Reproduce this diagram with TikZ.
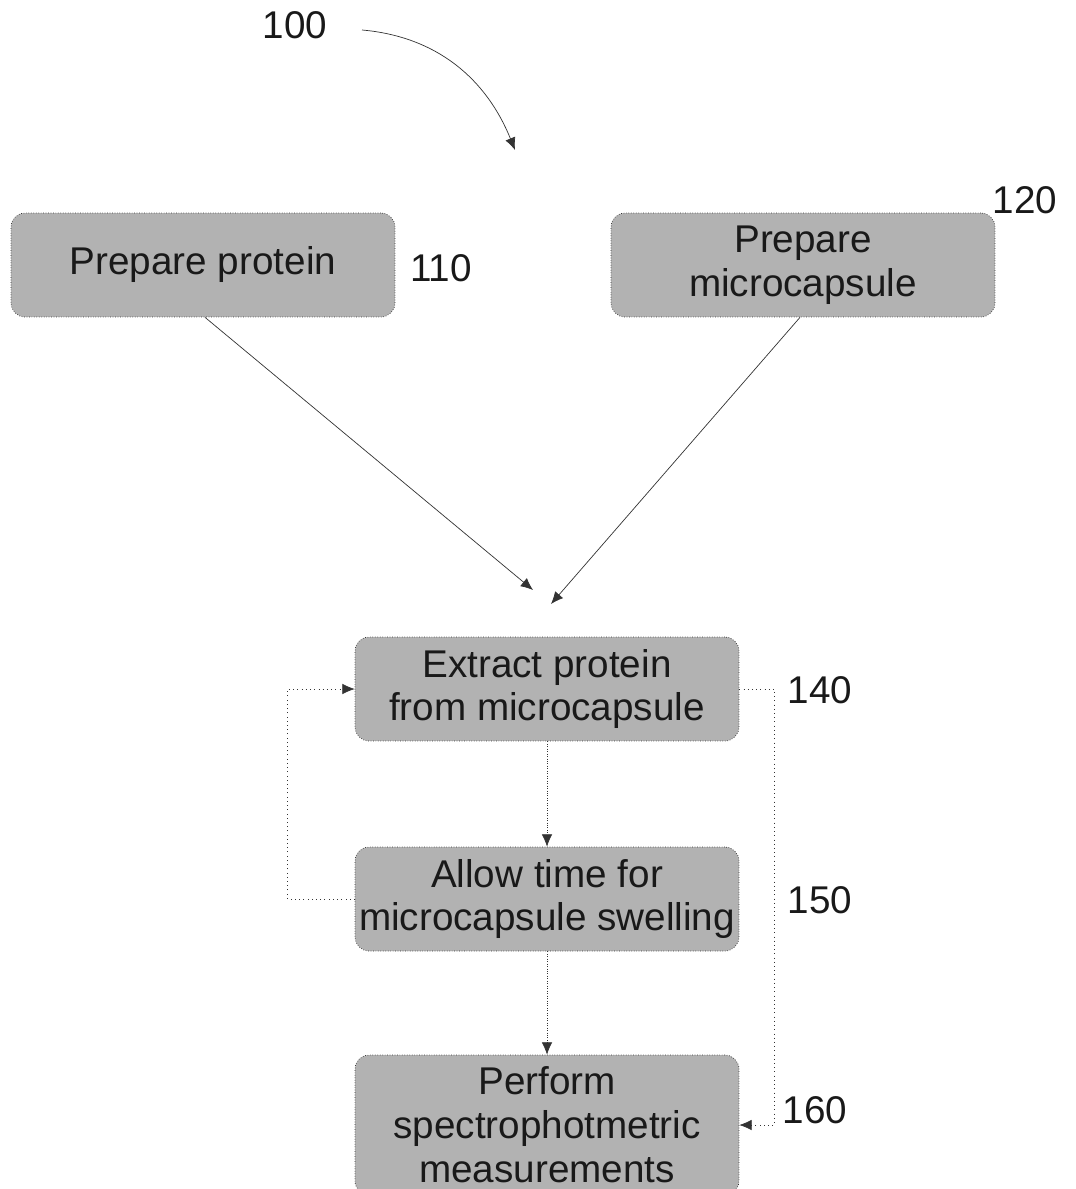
\documentclass[tikz,border=0pt]{standalone}
\usepackage{fontspec}
\setmainfont{Liberation Sans}
\usetikzlibrary{arrows.meta}
\begin{document}
\begin{tikzpicture}[
			x=0.02cm, y=-0.02cm,
			font=\fontsize{22}{25}\selectfont,
			stepbox/.style={draw=black!80, densely dotted, rounded corners=8pt, fill=black!30,
					text=black!90, align=center, inner xsep=2pt,
					minimum width=7.68cm, minimum height=2.08cm},
			tag/.style={text=black!90},
			link/.style={draw=black!80, thin, -{Latex[length=7pt,width=6pt]}},
			loop/.style={link, dotted}
		]
		\useasboundingbox (0,0) rectangle (1075,1189);
		\clip (0,0) rectangle (1075,1189);
		\node[stepbox] (s110) at (203,265) {Prepare protein};
		\node[stepbox] (s120) at (803,265) {Prepare\\microcapsule};
		\node[stepbox] (s140) at (547,689) {Extract protein\\from microcapsule};
		\node[stepbox] (s150) at (547,899) {Allow time for\\microcapsule swelling};
		\node[stepbox, minimum height=2.8cm] (s160) at (547,1125) {Perform\\spectrophotmetric\\measurements};
		\node[tag] (t100) at (295,25) {100};
		\node[tag] (t110) at (441,268) {110};
		\node[tag] (t120) at (1025,200) {120};
		\node[tag] (t140) at (820,690) {140};
		\node[tag] (t150) at (820,900) {150};
		\node[tag] (t160) at (815,1110) {160};
		\coordinate (c100) at (515,150);
		\coordinate (c110) at (533,590);
		\coordinate (c120) at (551,604);
		\draw[link] (362,30) to[out=-5, in=112] (c100);
		\draw[link] (s110.south) ++(2,0) -- (c110);
		\draw[link] (s120.south) ++(-3,0) -- (c120);
		\draw[link, densely dotted] (s140) -- (s150);
		\draw[link, densely dotted] (s150) -- (s160);
		\draw[loop] (s150.west) -- ++(-67,0) |- (s140.west);
		\draw[loop] (s140.east) -- ++(35,0) |- (s160.east);
\end{tikzpicture}
\end{document}
